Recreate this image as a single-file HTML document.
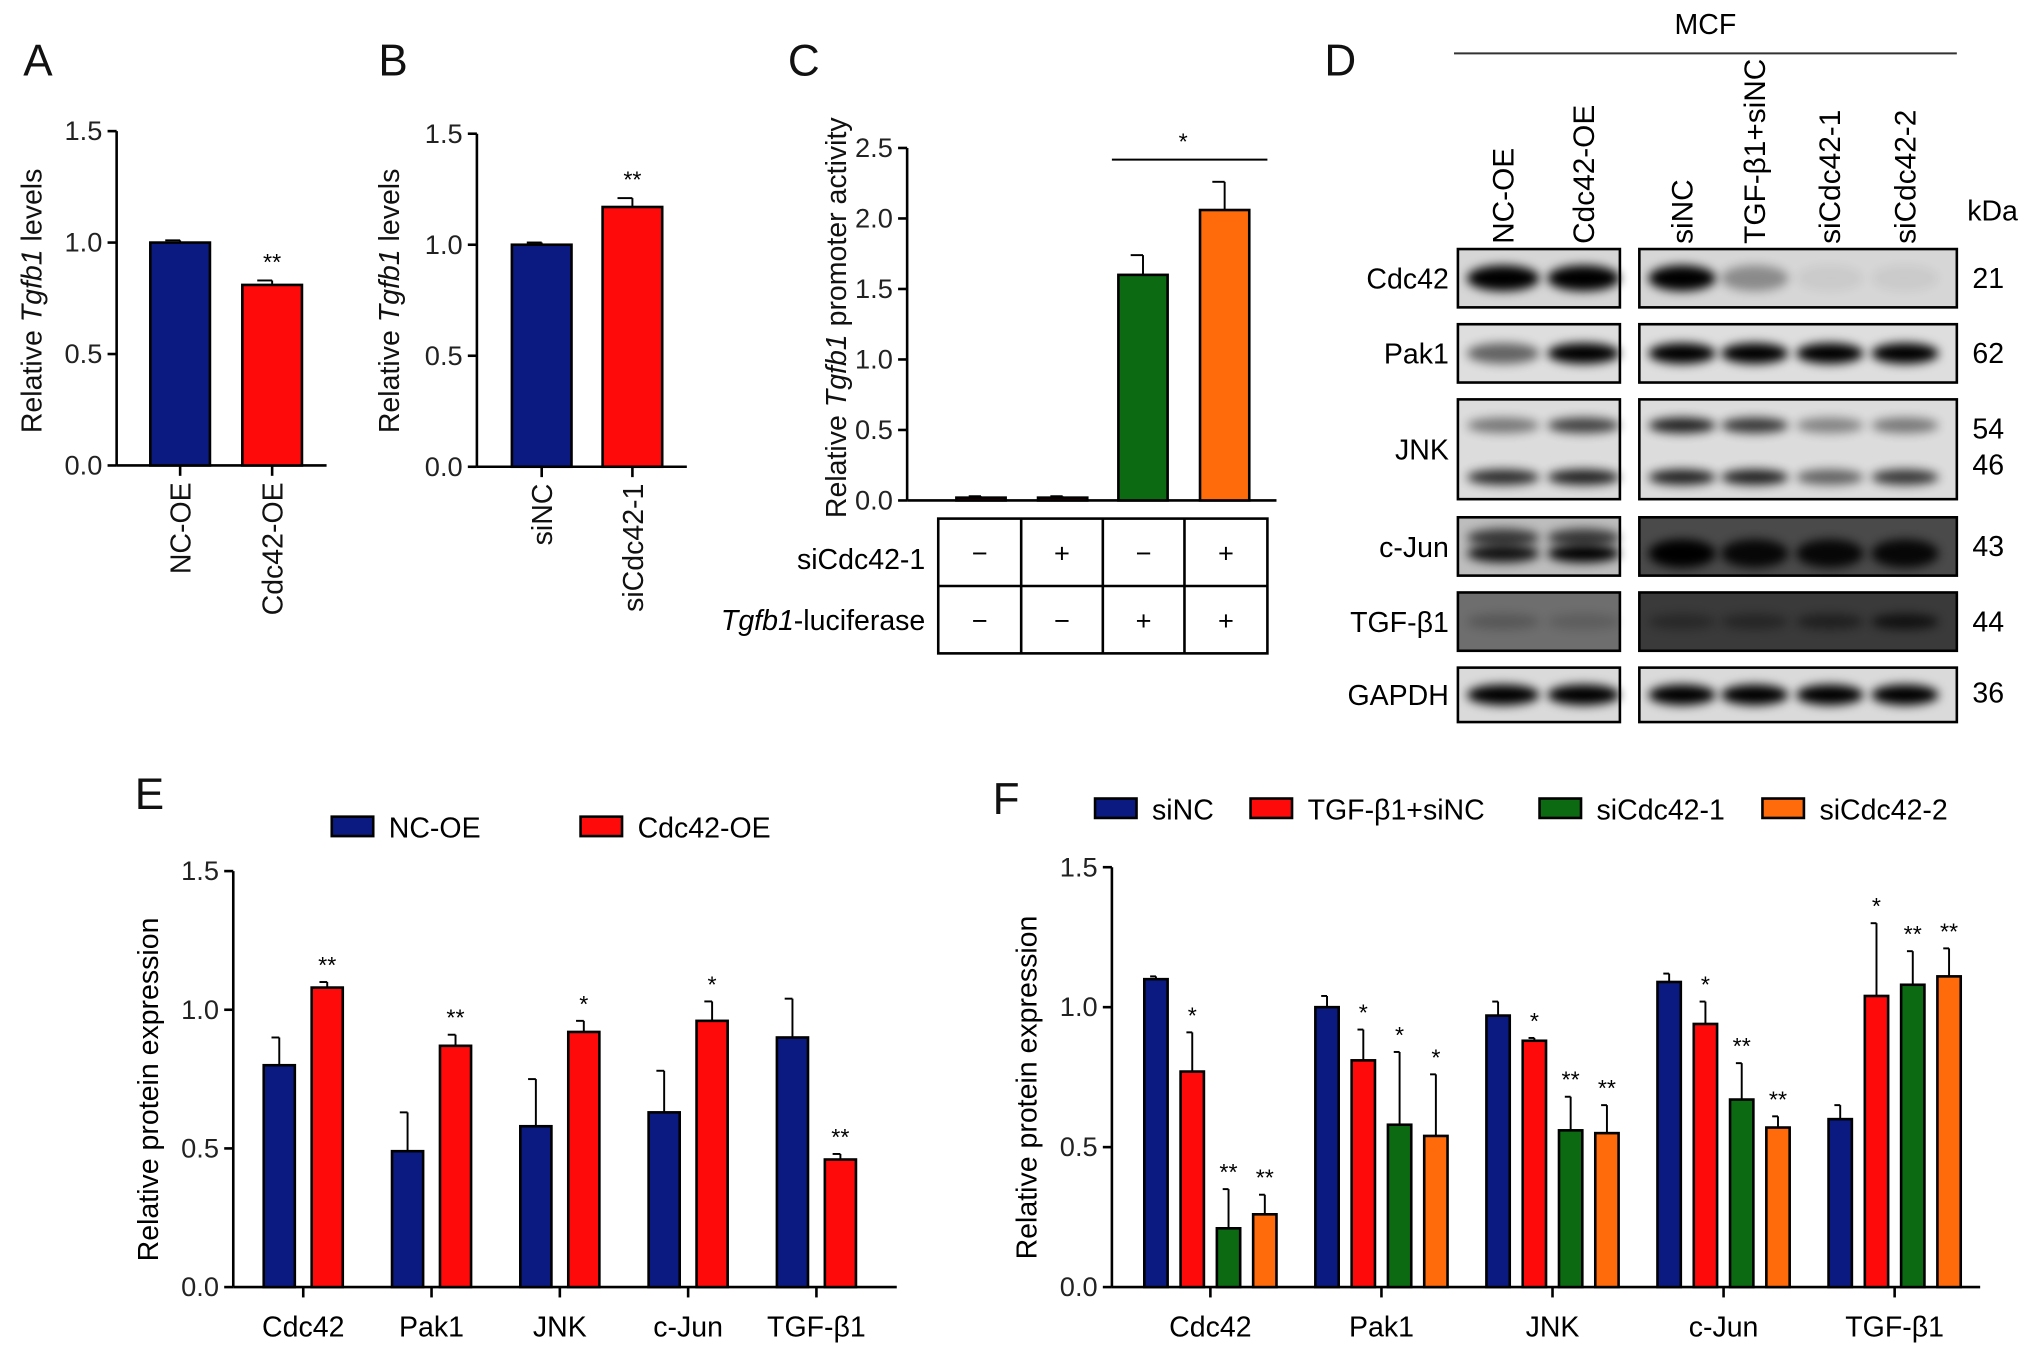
<!DOCTYPE html>
<html><head><meta charset="utf-8"><style>
html,body{margin:0;padding:0;background:#fff}
svg{display:block;font-family:"Liberation Sans",sans-serif}
</style></head><body>
<svg id="fig" width="2032" height="1356" viewBox="0 0 1568 1046" xmlns="http://www.w3.org/2000/svg">
<defs>
<filter id="blur" x="-20%" y="-100%" width="140%" height="300%"><feGaussianBlur stdDeviation="4"/></filter>
</defs>
<g id="root"></g>
</svg>
<script>
// ---- data ----
const aCats=["NC-OE","Cdc42-OE"];
const aVals=[1.00,0.81];
const aErr=[0.01,0.02];
const bCats=["siNC","siCdc42-1"];
const bVals=[1.00,1.17];
const bErr=[0.01,0.04];
const cVals=[0.02,0.02,1.60,2.06];
const cErr=[0.01,0.01,0.14,0.20];
const cRow1=["−","+","−","+"];
const cRow2=["−","−","+","+"];
const eCats=["Cdc42","Pak1","JNK","c-Jun","TGF-β1"];
const eNC=[0.80,0.49,0.58,0.63,0.90];
const eNCerr=[0.10,0.14,0.17,0.15,0.14];
const eOE=[1.08,0.87,0.92,0.96,0.46];
const eOEerr=[0.02,0.04,0.04,0.07,0.02];
const eSig=["**","**","*","*","**"];
const fCats=["Cdc42","Pak1","JNK","c-Jun","TGF-β1"];
const fSiNC=[1.10,1.00,0.97,1.09,0.60];
const fSiNCerr=[0.01,0.04,0.05,0.03,0.05];
const fTGF=[0.77,0.81,0.88,0.94,1.04];
const fTGFerr=[0.14,0.11,0.01,0.08,0.26];
const fSi1=[0.21,0.58,0.56,0.67,1.08];
const fSi1err=[0.14,0.26,0.12,0.13,0.12];
const fSi2=[0.26,0.54,0.55,0.57,1.11];
const fSi2err=[0.07,0.22,0.10,0.04,0.10];
const fSigTGF=["*","*","*","*","*"];
const fSig1=["**","*","**","**","**"];
const fSig2=["**","*","**","**","**"];
const ticks15=[0,0.5,1.0,1.5];
const ticks25=[0,0.5,1.0,1.5,2.0,2.5];

const NS="http://www.w3.org/2000/svg";
const root=document.getElementById('root');
function el(tag,attrs,parent,text){const e=document.createElementNS(NS,tag);for(const k in attrs)e.setAttribute(k,attrs[k]);if(text!==undefined)e.textContent=text;(parent||root).appendChild(e);return e;}
const BLUE="#0b1a80",RED="#ff0a0a",GREEN="#0b6a12",ORANGE="#ff6a0a";
const FS=21;

function yAxis(g,x,y0,y1,max,ticks,fs){
  const sc=v=>y0-(v/max)*(y0-y1);
  el('line',{x1:x,y1:y0,x2:x,y2:y1,stroke:'#000','stroke-width':2},g);
  ticks.forEach(t=>{
    el('line',{x1:x-7,y1:sc(t),x2:x,y2:sc(t),stroke:'#000','stroke-width':2},g);
    const tx=el('text',{x:x-11,y:sc(t)+7,'text-anchor':'end','font-size':fs,fill:'#222'},g,t.toFixed(1));
    
    
  });
  return sc;
}
function bar(g,cx,w,v,err,sc,col,name){
  const r=el('rect',{x:cx-w/2,y:sc(v),width:w,height:sc(0)-sc(v),fill:col,stroke:'#000','stroke-width':2},g);
  
  
  if(err>0){
    el('line',{x1:cx,y1:sc(v),x2:cx,y2:sc(v+err),stroke:'#000','stroke-width':1.5},g);
    el('line',{x1:cx-w/4,y1:sc(v+err),x2:cx,y2:sc(v+err),stroke:'#000','stroke-width':1.5},g);
  }
  return r;
}
function label(x,y,t,fs,name,anchor,extra){
  const e=el('text',Object.assign({x:x,y:y,'font-size':fs,'text-anchor':anchor||'start',fill:'#111'},extra||{}),root,t);
  
  
  return e;
}

// ---- panel letters ----
[["A",18,58],["B",292,58],["C",608,58],["D",1022,58],["E",104,624],["F",766,628]].forEach(p=>label(p[1],p[2],p[0],34,'panel-letter-'+p[0].toLowerCase()));

// ---- Panel A ----
(function(){
  const g=el('g',{});
  const sc=yAxis(g,90,359,101,1.5,ticks15,FS);
  el('line',{x1:90,y1:359,x2:252,y2:359,stroke:'#000','stroke-width':2},g);
  const xs=[139,210],cols=[BLUE,RED];
  aVals.forEach((v,i)=>{bar(g,xs[i],46,v,aErr[i],sc,cols[i],'bar-'+aCats[i].toLowerCase());
    el('line',{x1:xs[i],y1:359,x2:xs[i],y2:367,stroke:'#000','stroke-width':2},g);
    const t=el('text',{x:0,y:0,'font-size':22,'text-anchor':'end',transform:`translate(${xs[i]+8},372) rotate(-90)`,fill:'#111'},g,aCats[i]);
    });
  const s=el('text',{x:xs[1],y:sc(aVals[1]+aErr[1])-8,'font-size':18,'text-anchor':'middle'},g,'**');
  
  const yt=el('text',{x:0,y:0,'font-size':22,'text-anchor':'middle',transform:'translate(32,232) rotate(-90)',fill:'#111'},g);
  yt.innerHTML='Relative <tspan font-style="italic">Tgfb1</tspan> levels';
  
})();

// ---- Panel B ----
(function(){
  const g=el('g',{});
  const sc=yAxis(g,368,360,103,1.5,ticks15,FS);
  el('line',{x1:368,y1:360,x2:530,y2:360,stroke:'#000','stroke-width':2},g);
  const xs=[418,488],cols=[BLUE,RED];
  bVals.forEach((v,i)=>{bar(g,xs[i],46,v,bErr[i],sc,cols[i],'bar-'+bCats[i].toLowerCase());
    el('line',{x1:xs[i],y1:360,x2:xs[i],y2:368,stroke:'#000','stroke-width':2},g);
    const t=el('text',{x:0,y:0,'font-size':22,'text-anchor':'end',transform:`translate(${xs[i]+8},373) rotate(-90)`,fill:'#111'},g,bCats[i]);
    });
  const s=el('text',{x:xs[1],y:sc(bVals[1]+bErr[1])-8,'font-size':18,'text-anchor':'middle'},g,'**');
  
  const yt=el('text',{x:0,y:0,'font-size':22,'text-anchor':'middle',transform:'translate(308,232) rotate(-90)',fill:'#111'},g);
  yt.innerHTML='Relative <tspan font-style="italic">Tgfb1</tspan> levels';
  
})();

// ---- Panel C ----
(function(){
  const g=el('g',{});
  const sc=yAxis(g,700,386,114,2.5,ticks25,FS);
  el('line',{x1:700,y1:386,x2:985,y2:386,stroke:'#000','stroke-width':2},g);
  const xs=[757,820,882,945],cols=["#7a0a14","#7a0a14",GREEN,ORANGE];
  cVals.forEach((v,i)=>bar(g,xs[i],38,v,cErr[i],sc,cols[i],'bar-condition-'+(i+1)));
  el('line',{x1:858,y1:123,x2:978,y2:123,stroke:'#000','stroke-width':1.5},g);
  const s=el('text',{x:913,y:115,'font-size':18,'text-anchor':'middle'},g,'*');
  
  const yt=el('text',{x:0,y:0,'font-size':22,'text-anchor':'middle',transform:'translate(653,245) rotate(-90)',fill:'#111'},g);
  yt.innerHTML='Relative <tspan font-style="italic">Tgfb1</tspan> promoter activity';
  
  const cx=[724,788,851,914,978];
  el('rect',{x:724,y:400,width:254,height:104,fill:'none',stroke:'#000','stroke-width':2},g);
  el('line',{x1:724,y1:452,x2:978,y2:452,stroke:'#000','stroke-width':2},g);
  [788,851,914].forEach(x=>el('line',{x1:x,y1:400,x2:x,y2:504,stroke:'#000','stroke-width':2},g));
  cRow1.forEach((t,i)=>{const e=el('text',{x:(cx[i]+cx[i+1])/2,y:434,'font-size':21,'text-anchor':'middle'},g,t);});
  cRow2.forEach((t,i)=>{const e=el('text',{x:(cx[i]+cx[i+1])/2,y:486,'font-size':21,'text-anchor':'middle'},g,t);});
  const r1=el('text',{x:714,y:439,'font-size':22,'text-anchor':'end'},g,'siCdc42-1');
  const r2=el('text',{x:714,y:486,'font-size':22,'text-anchor':'end'},g);r2.innerHTML='<tspan font-style="italic">Tgfb1</tspan>-luciferase';
  
})();

// ---- Panel D (western blot) ----
(function(){
  const g=el('g',{});
  const t=el('text',{x:1316,y:26,'font-size':22,'text-anchor':'middle'},g,'MCF');
  el('line',{x1:1122,y1:41,x2:1510,y2:41,stroke:'#333','stroke-width':1.5},g);
  const lanes=[["NC-OE",1160],["Cdc42-OE",1222],["siNC",1298],["TGF-β1+siNC",1354],["siCdc42-1",1412],["siCdc42-2",1470]];
  lanes.forEach(l=>{const e=el('text',{x:0,y:0,'font-size':23,'text-anchor':'start',transform:`translate(${l[1]+8},188) rotate(-90)`},g,l[0]);});
  const kd=el('text',{x:1518,y:170,'font-size':22},g,'kDa');
  const rows=[
   {n:"Cdc42",y:192,h:45,bg:"#d6d6d6",ry:10,kda:[["21",214]],bands:[[0.5,[1,1,1,.35,.05,.05]]]},
   {n:"Pak1",y:250,h:45,bg:"#dedede",ry:8,kda:[["62",272]],bands:[[0.5,[.55,1,1,1,1,1]]]},
   {n:"JNK",y:308,h:77,bg:"#dcdcdc",ry:6,kda:[["54",330],["46",358]],bands:[[0.26,[.45,.7,.85,.75,.4,.45]],[0.78,[.8,.85,.85,.85,.55,.75]]]},
   {n:"c-Jun",y:399,h:45,bg:"#4a4a4a",bgL:"#bdbdbd",ry:7,kda:[["43",421]],bands:[[0.35,[.7,.7,0,0,0,0]],[0.62,[.9,1,1,.9,.9,.9]]]},
   {n:"TGF-β1",y:457,h:45,bg:"#3a3a3a",bgL:"#6e6e6e",ry:6,kda:[["44",479]],bands:[[0.5,[.2,.15,.3,.35,.45,.7]]]},
   {n:"GAPDH",y:515,h:42,bg:"#dadada",ry:8,kda:[["36",534]],bands:[[0.5,[1,1,1,1,1,1]]]}
  ];
  const boxes=[[1125,1250,[0,1]],[1265,1510,[2,3,4,5]]];
  rows.forEach(r=>{
    const lb=el('text',{x:1118,y:r.y+r.h/2+8,'font-size':22,'text-anchor':'end'},g,r.n);
    r.kda.forEach(k=>{const e=el('text',{x:1522,y:k[1]+8,'font-size':22},g,k[0]);});
    boxes.forEach((b,bi)=>{
      const bg=(bi===0&&r.bgL)?r.bgL:r.bg;
      const rr=el('rect',{x:b[0],y:r.y,width:b[1]-b[0],height:r.h,fill:bg},g);
      
      r.bands.forEach(bd=>{
        b[2].forEach(li=>{
          const a=bd[1][li];if(a<=0)return;
          const cx=lanes[li][1];const w=bi===0?56:52;
          const ry=(r.n==="c-Jun"&&bi===1)?11:r.ry;
          el('ellipse',{cx:cx,cy:r.y+r.h*bd[0],rx:w/2,ry:ry,fill:'#000',opacity:a,filter:'url(#blur)'},g);
        });
      });
      el('rect',{x:b[0],y:r.y,width:b[1]-b[0],height:r.h,fill:'none',stroke:'#000','stroke-width':2},g);
    });
  });
})();

// ---- grouped chart helper ----
function grouped(opt){
  const g=el('g',{});
  const sc=yAxis(g,opt.x0,opt.y0,opt.y1,1.5,ticks15,FS);
  el('line',{x1:opt.x0,y1:opt.y0,x2:opt.x1,y2:opt.y0,stroke:'#000','stroke-width':2},g);
  const n=opt.series.length;
  opt.cats.forEach((c,i)=>{
    const gc=opt.first+i*opt.step;
    el('line',{x1:gc,y1:opt.y0,x2:gc,y2:opt.y0+8,stroke:'#000','stroke-width':2},g);
    const t=el('text',{x:gc,y:opt.y0+38,'font-size':22,'text-anchor':'middle'},g,c);
    
    opt.series.forEach((s,j)=>{
      const bx=gc+(j-(n-1)/2)*opt.bstep;
      bar(g,bx,opt.bw,s.v[i],s.e[i],sc,s.c,'bar-'+c.toLowerCase()+'-'+s.k);
      if(s.sig){const m=el('text',{x:bx,y:sc(s.v[i]+s.e[i])-7,'font-size':18,'text-anchor':'middle'},g,s.sig[i]);
        }
    });
  });
  const yt=el('text',{x:0,y:0,'font-size':22,'text-anchor':'middle',transform:`translate(${opt.x0-58},${(opt.y0+opt.y1)/2+8}) rotate(-90)`},g,'Relative protein expression');
  
  opt.legend.forEach(l=>{
    const r=el('rect',{x:l[0],y:l[1]-8,width:32,height:15,fill:l[2],stroke:'#000','stroke-width':2},g);
    
    const t=el('text',{x:l[0]+44,y:l[1]+8,'font-size':22},g,l[3]);
    
  });
}
grouped({name:'panel-e-chart',x0:180,x1:692,y0:993,y1:672,first:234,step:99,bstep:37,bw:24,cats:eCats,
  series:[{k:'nc-oe',v:eNC,e:eNCerr,c:BLUE},{k:'cdc42-oe',v:eOE,e:eOEerr,c:RED,sig:eSig}],
  legend:[[256,638,BLUE,'NC-OE'],[448,638,RED,'Cdc42-OE']]});
grouped({name:'panel-f-chart',x0:858,x1:1528,y0:993,y1:669,first:934,step:132,bstep:28,bw:18,cats:fCats,
  series:[{k:'sinc',v:fSiNC,e:fSiNCerr,c:BLUE},{k:'tgf-sinc',v:fTGF,e:fTGFerr,c:RED,sig:fSigTGF},{k:'sicdc42-1',v:fSi1,e:fSi1err,c:GREEN,sig:fSig1},{k:'sicdc42-2',v:fSi2,e:fSi2err,c:ORANGE,sig:fSig2}],
  legend:[[845,624,BLUE,'siNC'],[965,624,RED,'TGF-β1+siNC'],[1188,624,GREEN,'siCdc42-1'],[1360,624,ORANGE,'siCdc42-2']]});
</script>
</body></html>
